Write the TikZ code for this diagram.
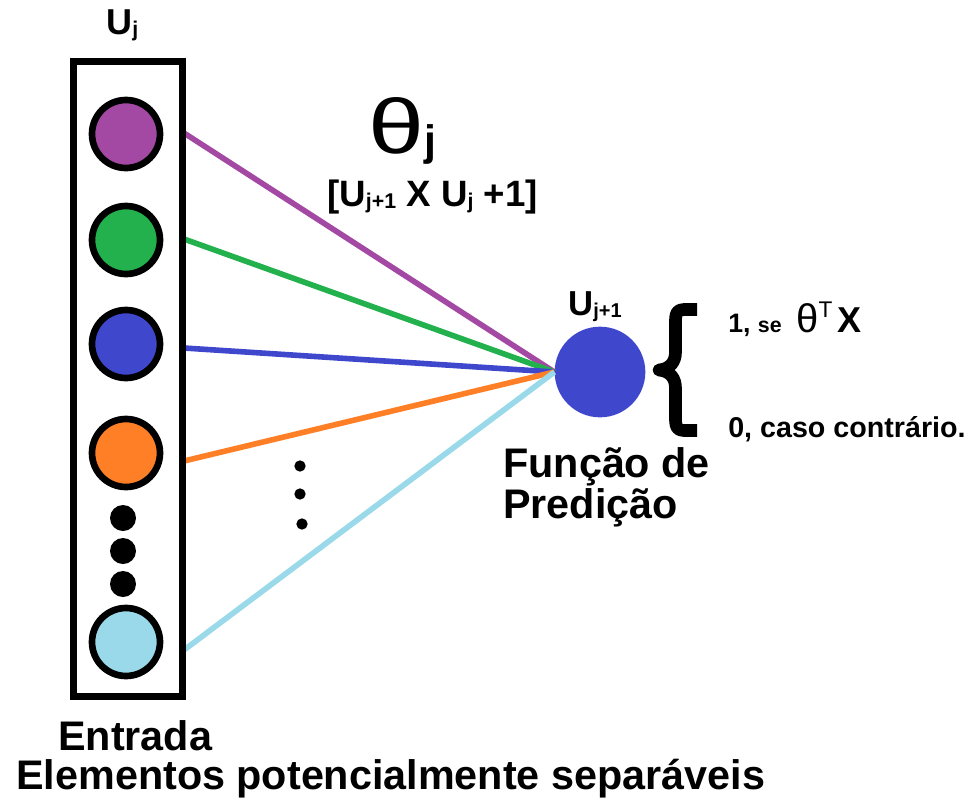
\documentclass[tikz,border=0pt]{standalone}
\usepackage{fontspec}
\setmainfont{Liberation Sans}
\definecolor{cpurple}{RGB}{163,73,164}
\definecolor{cgreen}{RGB}{34,177,76}
\definecolor{cblue}{RGB}{63,72,204}
\definecolor{corange}{RGB}{255,127,39}
\definecolor{clight}{RGB}{153,217,234}
\newcommand{\fs}[1]{\fontsize{#1}{#1}\selectfont}
\newcommand{\smallsub}[2]{\raisebox{-1.5pt}{\fs{#1}#2}}
\begin{document}
\begin{tikzpicture}[x=0.75pt,y=-0.75pt,
  inball/.style={circle, draw=black, line width=5pt, minimum size=51pt, inner sep=0pt},
  boxdot/.style={circle, fill=black, minimum size=19.5pt, inner sep=0pt},
  smalldot/.style={circle, fill=black, minimum size=8.5pt, inner sep=0pt},
  link/.style={line width=4.2pt},
  lbl/.style={inner sep=0pt, anchor=base west, font=\bfseries}]
\path[use as bounding box] (0,0) rectangle (971,800);

% target neuron
\node[circle, fill=cblue, minimum size=68pt, inner sep=0pt] (out) at (600,372) {};

% connection start points on box edge
\coordinate (s1) at (184,133);
\coordinate (s2) at (184,239);
\coordinate (s3) at (184,348);
\coordinate (s4) at (184,461);
\coordinate (s5) at (184,650);
\draw[link, cpurple] (s1) -- (out.west);
\draw[link, cgreen] (s2) -- (out.west);
\draw[link, cblue] (s3) -- (out.west);
\draw[link, corange] (s4) -- (out.west);
\draw[link, clight] (s5) -- (out.west);

% box
\node[draw=black, line width=5.25pt, minimum width=81.75pt, minimum height=476.25pt, inner sep=0pt] (box) at (127.5,378.5) {};

% input balls
\node[inball, fill=cpurple] (c1) at (126,134) {};
\node[inball, fill=cgreen] (c2) at (126,240) {};
\node[inball, fill=cblue] (c3) at (126,344) {};
\node[inball, fill=corange] (c4) at (126,453) {};
\node[inball, fill=clight] (c5) at (126,642) {};
\node[boxdot] (b1) at (123,518) {};
\node[boxdot] (b2) at (123,551) {};
\node[boxdot] (b3) at (123,584) {};

% dots between lines
\node[smalldot] (d1) at (300,466) {};
\node[smalldot] (d2) at (300,494) {};
\node[smalldot] (d3) at (302,524) {};

% brace
\draw[line width=9.5pt, line join=round] (697,309.5) -- (684,309.5)
  .. controls (677.5,309.5) and (675.5,313) .. (675.5,320) -- (675.5,352)
  .. controls (675.5,362) and (670,369) .. (659,370)
  .. controls (670,371) and (675.5,378) .. (675.5,388) -- (675.5,420)
  .. controls (675.5,427) and (677.5,430.5) .. (684,430.5) -- (697,430.5);

% labels
\node[lbl] (uj) at (106,34) {\fs{27}U\smallsub{16}{j}};
\node[inner sep=0pt, anchor=base west] (theta) at (368,153) {\fs{58}\scalebox{1.3}[1]{θ}\smallsub{32}{\bfseries j}};
\node[lbl] (dims) at (327,206) {\fs{27.5}[U\smallsub{16}{j+1} X U\smallsub{16}{j} +1]};
\node[lbl] (ujp) at (568,315) {\fs{26}U\smallsub{15}{j+1}};
\node[lbl] (case1) at (728,332) {\fs{20}1, {\fs{16}se}\ \ {\fs{30}\mdseries θ}\raisebox{11pt}{\fs{17}\mdseries T}\,{\fs{27}X}};
\node[lbl] (case0) at (728,437) {\fs{21.5}0, caso contrário.};
\node[lbl] (func) at (503,477) {\fs{31}Função de};
\node[lbl] (func2) at (503,518) {\fs{31}Predição};
\node[lbl] (entrada) at (58,750) {\fs{31}Entrada};
\node[lbl] (elem) at (16,789) {\fs{31}Elementos potencialmente separáveis};
\end{tikzpicture}
\end{document}
